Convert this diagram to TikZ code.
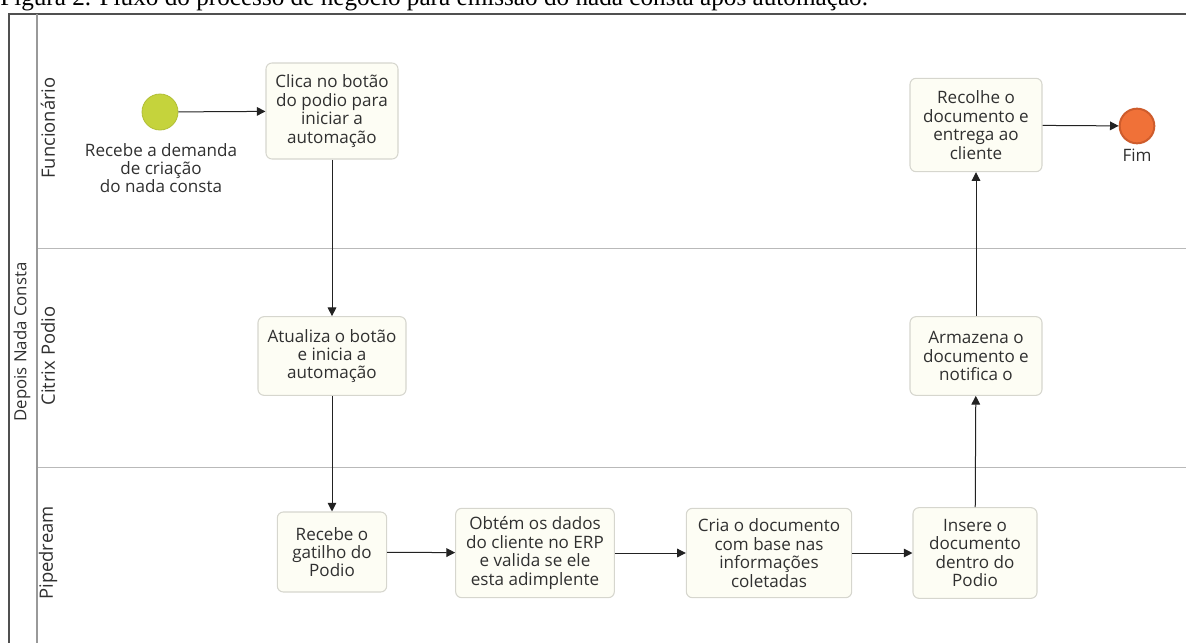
\documentclass[tikz,border=0pt]{standalone}
\usepackage{fontspec}
\setmainfont{Liberation Serif}
\newfontfamily\flowfont{Open Sans}
\usepackage{xcolor}
\usetikzlibrary{arrows.meta,positioning}
\definecolor{FlowText}{RGB}{48,48,48}
\definecolor{FlowLine}{RGB}{34,34,34}
\definecolor{FlowBorder}{RGB}{214,214,206}
\definecolor{FlowFill}{RGB}{253,253,244}
\definecolor{PoolLine}{RGB}{80,80,80}
\definecolor{LaneLine}{RGB}{185,185,185}
\definecolor{StartGreen}{RGB}{197,211,60}
\definecolor{EndOrange}{RGB}{240,113,56}
\definecolor{EndBorder}{RGB}{206,92,44}

\begin{document}
\begin{tikzpicture}[
    x=0.75pt,y=-0.75pt,
    task/.style={rounded corners=4.5pt, draw=FlowBorder, fill=FlowFill, line width=0.8pt, align=center, text=FlowText, font=\flowfont\fontsize{12.8}{13.8}\selectfont, inner sep=2pt},
    lanetxt/.style={rotate=90, text=FlowText, font=\flowfont\fontsize{13.8}{15}\selectfont},
    flow/.style={-{Triangle[length=6.5pt,width=6.5pt]}, line width=0.75pt, draw=FlowLine},
    evtxt/.style={align=center, text=FlowText, font=\flowfont\fontsize{12.8}{13.8}\selectfont}
  ]
    \useasboundingbox (0,0) rectangle (1186,643);
    \clip (0,0) rectangle (1186,643);
    \node[anchor=base west, inner sep=0pt, font=\fontsize{18.9}{22}\selectfont] (cap) at (0,5) {Figura 2. Fluxo do processo de negócio para emissão do nada consta após automação.};
    % pool and lanes
    \draw[LaneLine, line width=0.75pt] (37,248) -- (1190,248);
    \draw[LaneLine, line width=0.75pt] (37,467) -- (1190,467);
    \draw[PoolLine, line width=1.1pt] (9,650) -- (9,14) -- (1190,14);
    \draw[gray!80, line width=1.5pt] (37,14) -- (37,650);
    \node[lanetxt, font=\flowfont\fontsize{12.6}{14}\selectfont] (pool) at (22,342) {Depois Nada Consta};
    \node[lanetxt] (l1) at (48,128) {Funcionário};
    \node[lanetxt] (l2) at (48,356) {Citrix Podio};
    \node[lanetxt] (l3) at (48,553) {Pipedream};
    % events
    \node[circle, minimum size=27pt, inner sep=0pt, fill=StartGreen, draw=StartGreen!90!black, line width=0.6pt] (start) at (160,112) {};
    \node[evtxt] (startlab) at (161,168) {Recebe a demanda\\de criação\\do nada consta};
    \node[circle, minimum size=26pt, inner sep=0pt, fill=EndOrange, draw=EndBorder, line width=1.5pt] (finish) at (1137,126) {};
    \node[evtxt] (finlab) at (1137,155) {Fim};
    % tasks
    \node[task, minimum width=99pt, minimum height=72pt] (click) at (332,111) {Clica no botão\\do podio para\\iniciar a\\automação};
    \node[task, minimum width=111pt, minimum height=59pt] (update) at (332,356) {Atualiza o botão\\e inicia a\\automação};
    \node[task, minimum width=82pt, minimum height=60pt] (trigger) at (332,552) {Recebe o\\gatilho do\\Podio};
    \node[task, minimum width=119pt, minimum height=67pt] (fetch) at (535,553) {Obtém os dados\\do cliente no ERP\\e valida se ele\\esta adimplente};
    \node[task, minimum width=124pt, minimum height=67pt] (create) at (769,553) {Cria o documento\\com base nas\\informações\\coletadas};
    \node[task, minimum width=93pt, minimum height=68pt] (insert) at (975,553) {Insere o\\documento\\dentro do\\Podio};
    \node[task, minimum width=99pt, minimum height=59pt] (store) at (976,356) {Armazena o\\documento e\\notifica o};
    \node[task, minimum width=99pt, minimum height=70pt] (collect) at (976,125) {Recolhe o\\documento e\\entrega ao\\cliente};
    % connectors
    \foreach \a/\b in {start/click,click/update,update/trigger,trigger/fetch,fetch/create,create/insert,insert/store,store/collect,collect/finish} {\draw[flow] (\a) -- (\b);}
  \end{tikzpicture}
\end{document}
